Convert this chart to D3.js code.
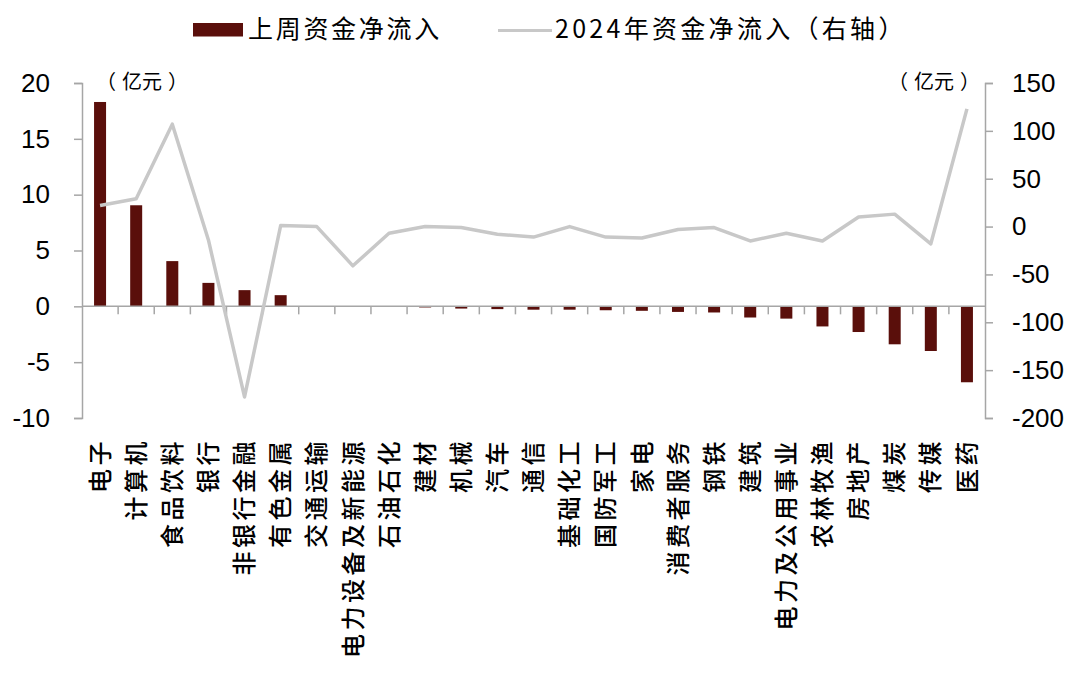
<!DOCTYPE html>
<html lang="zh">
<head>
<meta charset="utf-8">
<title>资金净流入</title>
<script src="https://cdn.jsdelivr.net/npm/d3@7"></script>
<style>
  body { margin: 0; background: #fff; }
  svg { display: block; }
  .num { font-family: "Liberation Sans", Arial, sans-serif; font-size: 26px; fill: #000; }
  .cjk { font-family: "Noto Sans CJK SC", sans-serif; fill: #000; }
</style>
</head>
<body>
<div id="vizContainer"></div>
<script>
// ---- data ----
var categories = ["电子","计算机","食品饮料","银行","非银行金融","有色金属","交通运输","电力设备及新能源","石油石化","建材","机械","汽车","通信","基础化工","国防军工","家电","消费者服务","钢铁","建筑","电力及公用事业","农林牧渔","房地产","煤炭","传媒","医药"];
// 上周资金净流入 (left axis, 亿元)
var weekFlow = [18.3, 9.05, 4.05, 2.1, 1.45, 1.0, 0.0, 0.0, -0.05, -0.1, -0.2, -0.25, -0.3, -0.3, -0.35, -0.4, -0.5, -0.55, -1.0, -1.1, -1.8, -2.3, -3.4, -4.0, -6.8];
// 2024年资金净流入 (right axis, 亿元)
var yearFlow = [22, 29, 107, -14, -178, 1, 0, -41, -7, 0, -1, -8, -11, 0, -11, -12, -3, -1, -15, -7, -15, 10, 13, -18, 123];
var leftTicks = [-10, -5, 0, 5, 10, 15, 20];
var rightTicks = [-200, -150, -100, -50, 0, 50, 100, 150];
var seriesNames = ["上周资金净流入", "2024年资金净流入（右轴）"];
var unitParts = ["（", "亿元", "）"];

// ---- canvas ----
var width = 1080, height = 688;
var svg = d3.select("#vizContainer").append("svg")
  .attr("width", width)
  .attr("height", height);

// note: don't call these "top" - window.top is read-only
var plotLeft = 82, plotRight = 985, plotTop = 83, plotBottom = 418;
var barColor = "#5a0f0b", lineColor = "#c8c8c8", axisColor = "#a6a6a6";

var x = d3.scaleBand().domain(categories).range([plotLeft, plotRight]).padding(0);
var yL = d3.scaleLinear().domain([-10, 20]).range([plotBottom, plotTop]);
var yR = d3.scaleLinear().domain([-200, 150]).range([plotBottom, plotTop]);
var barW = 12;

// bars
svg.selectAll("rect.bar")
  .data(weekFlow)
  .enter()
  .append("rect")
  .attr("class", "bar")
  .attr("x", function(d, i){ return x(categories[i]) + x.bandwidth()/2 - barW/2; })
  .attr("y", function(d){ return yL(Math.max(d, 0)); })
  .attr("width", barW)
  .attr("height", function(d){ return Math.abs(yL(d) - yL(0)); })
  .attr("fill", barColor);

// zero line + category ticks
svg.append("line")
  .attr("x1", plotLeft).attr("x2", plotRight)
  .attr("y1", yL(0)).attr("y2", yL(0))
  .attr("stroke", axisColor).attr("stroke-width", 1.5);

svg.selectAll("line.ctick")
  .data(categories.slice(1))
  .enter()
  .append("line")
  .attr("x1", function(d){ return x(d); })
  .attr("x2", function(d){ return x(d); })
  .attr("y1", yL(0)).attr("y2", yL(0) + 8)
  .attr("stroke", axisColor).attr("stroke-width", 1.5);

// line series
var line = d3.line()
  .x(function(d, i){ return x(categories[i]) + x.bandwidth()/2; })
  .y(function(d){ return yR(d); });

svg.append("path")
  .datum(yearFlow)
  .attr("d", line)
  .attr("fill", "none")
  .attr("stroke", lineColor)
  .attr("stroke-width", 3.5)
  .attr("stroke-linejoin", "round");

// plain hyphen for negatives, like the original
var fmt = function(d){ return String(d); };

// left axis
var gL = svg.append("g")
  .attr("transform", "translate(" + plotLeft + ",0)")
  .call(d3.axisLeft(yL).tickValues(leftTicks).tickFormat(fmt).tickSize(8).tickPadding(24));
// right axis
var gR = svg.append("g")
  .attr("transform", "translate(" + plotRight + ",0)")
  .call(d3.axisRight(yR).tickValues(rightTicks).tickFormat(fmt).tickSize(8).tickPadding(19));

[gL, gR].forEach(function(g){
  g.attr("font-family", null).attr("font-size", null);
  g.select(".domain").attr("stroke", axisColor).attr("stroke-width", 1.5);
  g.selectAll(".tick line").attr("stroke", axisColor).attr("stroke-width", 1.5);
  g.selectAll(".tick text").attr("class", "num").attr("fill", "#000");
});

// unit labels - parens get a bit of extra room, like the full-width ones in the original
function unitLabel(xPos, anchor){
  var t = svg.append("text").attr("class", "cjk")
    .attr("x", xPos).attr("y", 84)
    .attr("text-anchor", anchor)
    .attr("dominant-baseline", "middle")
    .style("font-size", "20px");
  unitParts.forEach(function(p, i){
    t.append("tspan").attr("dx", i == 0 ? 0 : 6).text(p);
  });
}
unitLabel(96, "start");
unitLabel(980, "end");

// category labels (rotated)
svg.selectAll("text.cat")
  .data(categories)
  .enter()
  .append("text")
  .attr("class", "cjk cat")
  .attr("transform", function(d){
    return "translate(" + (x(d) + x.bandwidth()/2) + ",438) rotate(-90)";
  })
  .attr("text-anchor", "end")
  .attr("dy", "0.36em")
  .style("font-size", "24px")
  .style("font-weight", "500")
  .style("letter-spacing", "3.5px")
  .text(function(d){ return d; });

// legend
var legend = svg.append("g");
legend.append("rect")
  .attr("x", 193).attr("y", 23)
  .attr("width", 50).attr("height", 13.5)
  .attr("fill", barColor);
legend.append("text").attr("class", "cjk")
  .attr("x", 248).attr("y", 31)
  .attr("dominant-baseline", "middle")
  .style("font-size", "25px")
  .style("letter-spacing", "2.7px")
  .text(seriesNames[0]);
legend.append("line")
  .attr("x1", 498).attr("x2", 552)
  .attr("y1", 30.5).attr("y2", 30.5)
  .attr("stroke", lineColor).attr("stroke-width", 3);
legend.append("text").attr("class", "cjk")
  .attr("x", 555).attr("y", 31)
  .attr("dominant-baseline", "middle")
  .style("font-size", "25px")
  .style("letter-spacing", "3.3px")
  .text(seriesNames[1]);
</script>
</body>
</html>
